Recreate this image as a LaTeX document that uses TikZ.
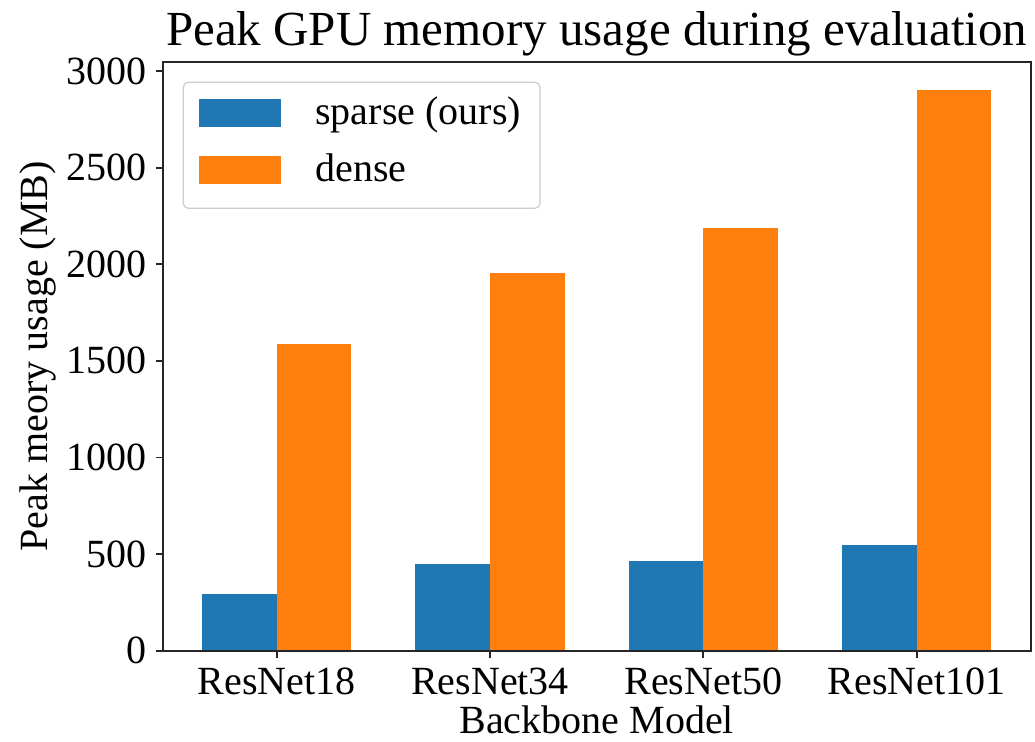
\documentclass[tikz,border=0pt]{standalone}
\usepackage{fontspec}
\setmainfont{Liberation Serif}
\definecolor{tabblue}{HTML}{1F77B4}
\definecolor{taborange}{HTML}{FF7F0E}
\definecolor{legendedge}{HTML}{CCCCCC}
\tikzset{
  spine/.style={line width=0.9pt, draw=black!85},
  tickmark/.style={line width=0.9pt, draw=black!85},
  ticklabel/.style={inner sep=0pt, font=\fontsize{20}{24}\selectfont},
  axlabel/.style={inner sep=0pt, font=\fontsize{20}{24}\selectfont},
  titlelabel/.style={inner sep=0pt, font=\fontsize{24.5}{28}\selectfont},
  legendbox/.style={draw=legendedge, fill=white, fill opacity=0.8, line width=0.6pt, rounded corners=2.5pt},
}
\begin{document}
\begin{tikzpicture}[x=0.5pt, y=-0.5pt]
  % canvas in pixel units (origin top left)
  \useasboundingbox[fill=white] (0,0) rectangle (1035,742);
  % axes geometry: value v -> y = 650.7 - 0.1932 v ; group i -> x = 276.7 + 213.3 i
  % bars
  \foreach \i/\s/\d in {0/293/1586, 1/449/1953, 2/463/2189, 3/545/2904} {
    \pgfmathsetmacro\xc{276.7+213.3*\i}
    \fill[tabblue] (\xc-74.7,650.7) rectangle (\xc,{650.7-0.1932*\s});
    \fill[taborange] (\xc,650.7) rectangle (\xc+74.7,{650.7-0.1932*\d});
  }
  % spines
  \draw[spine] (162.6,62) rectangle (1030.8,650.7);
  % y ticks
  \foreach \v in {0,500,...,3000} {
    \pgfmathsetmacro\yy{650.7-0.1932*\v}
    \draw[tickmark] (155.6,\yy) -- (162.6,\yy);
    \node[ticklabel, anchor=east] (yt\v) at (147,\yy) {\v};
  }
  % x ticks
  \foreach \i/\name in {0/ResNet18, 1/ResNet34, 2/ResNet50, 3/ResNet101} {
    \pgfmathsetmacro\xc{276.7+213.3*\i}
    \draw[tickmark] (\xc,650.7) -- (\xc,657.7);
    \node[ticklabel, anchor=base] (xt\i) at (\xc,695) {\name};
  }
  % axis labels and title
  \node[axlabel, anchor=base] (xlab) at (596.7,734) {Backbone Model};
  \node[axlabel, anchor=base, rotate=90] (ylab) at (47,356.3) {Peak meory usage (MB)};
  \node[titlelabel, anchor=base] (title) at (596.7,46) {Peak GPU memory usage during evaluation};
  % legend
  \draw[legendbox] (183.3,82.3) rectangle (540,208.3);
  \fill[tabblue] (199.3,99) rectangle (281,126.7);
  \fill[taborange] (199.3,156) rectangle (281,184.3);
  \node[axlabel, anchor=base west] (lsparse) at (315,125) {sparse (ours)};
  \node[axlabel, anchor=base west] (ldense) at (315,182) {dense};
\end{tikzpicture}
\end{document}
